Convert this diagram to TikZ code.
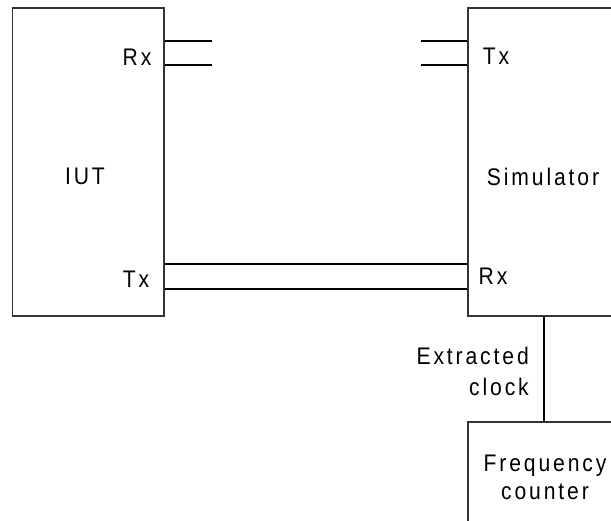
\documentclass[tikz,border=0pt]{standalone}
\usepackage{fontspec}
\setmainfont{Liberation Sans}[LetterSpace=12, FakeStretch=0.88]
\usetikzlibrary{positioning,calc}

\tikzset{
  box/.style={draw=black!80, line width=1.2pt, rectangle, inner sep=0pt},
  wire/.style={draw=black, line width=2.2pt},
  lbl/.style={font=\fontsize{24}{31}\selectfont, inner sep=0pt}
}

\begin{document}
\begin{tikzpicture}[x=1pt, y=-1pt]
\useasboundingbox (0,0) rectangle (611,520);
\clip (0,0) rectangle (611,520);

% Boxes (right sides run off the page)
\node[box, minimum width=151.5pt, minimum height=308pt] (iut) at (88.25,162) {};
\node[box, minimum width=182pt, minimum height=308pt] (sim) at (559,162) {};
\node[box, minimum width=182pt, minimum height=130pt] (freq) at (559,487) {};

% Labels
\node[lbl] (iutname) at (85,176) {IUT};
\node[lbl] (iutrx) at (137,57) {Rx};
\node[lbl] (iuttx) at (136,279) {Tx};
\node[lbl] (simname) at (543,177) {Simulator};
\node[lbl] (simtx) at (496,56) {Tx};
\node[lbl] (simrx) at (493,276) {Rx};
\node[lbl, align=right, anchor=east] (clk) at (529,371) {Extracted\\clock};
\node[lbl, align=center, font=\fontsize{24}{28}\selectfont] (freqname) at (545,477) {Frequency\\counter};

% Free ends of the short stubs
\coordinate (rxa) at (212,41);
\coordinate (rxb) at (212,65);
\coordinate (txa) at (421,41);
\coordinate (txb) at (421,65);

% Stubs at IUT Rx and Simulator Tx
\draw[wire] (rxa -| iut.east) -- (rxa);
\draw[wire] (rxb -| iut.east) -- (rxb);
\draw[wire] (txa) -- (txa -| sim.west);
\draw[wire] (txb) -- (txb -| sim.west);

% IUT Tx to Simulator Rx
\draw[wire] ($(iut.east)+(0,102)$) -- ($(sim.west)+(0,102)$);
\draw[wire] ($(iut.east)+(0,127)$) -- ($(sim.west)+(0,127)$);

% Extracted clock to frequency counter
\draw[wire] (sim.south -| 544,0) -- (freq.north -| 544,0);
\end{tikzpicture}
\end{document}
